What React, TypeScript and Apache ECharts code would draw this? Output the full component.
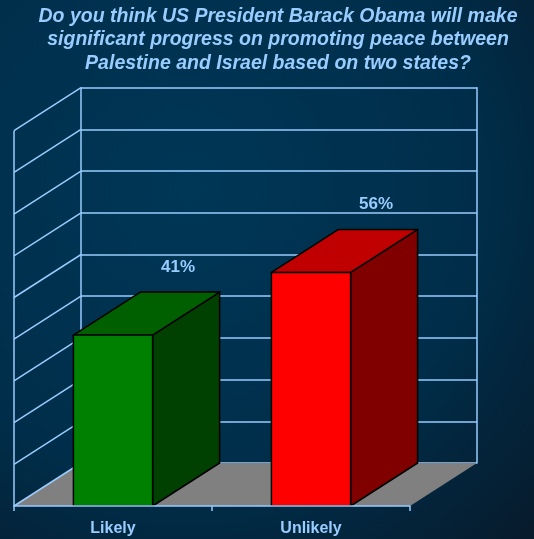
import React, { useEffect, useRef } from "react";
import * as echarts from "echarts";

const titleLines = [
  "Do you think US President Barack Obama will make",
  "significant progress on promoting peace between",
  "Palestine and Israel based on two states?",
];
const categories = ["Likely", "Unlikely"];
const values = [41, 56];
const valueLabels = ["41%", "56%"];
const faceColors = ["#008000", "#ff0000"];
const topColors = ["#006000", "#c00000"];
const sideColors = ["#004000", "#800000"];
const gridTicks = [0, 10, 20, 30, 40, 50, 60, 70, 80, 90];

const DX = 67;
const DY = -43;
const LINE = "#99ccff";
const FONT = "'Liberation Sans', Arial, sans-serif";

export default function App() {
  const ref = useRef<HTMLDivElement>(null);
  useEffect(() => {
    if (!ref.current) return;
    const chart = echarts.init(ref.current, undefined, { renderer: "svg" });
    const front = { left: 14, top: 130.7, width: 396, height: 375.3 };
    const back = { left: front.left + DX, top: front.top + DY, width: 396, height: 375.3 };
    chart.setOption({
      animation: false,
      backgroundColor: {
        type: "radial",
        x: 0.35,
        y: 0.35,
        r: 0.9,
        colorStops: [
          { offset: 0, color: "#003756" },
          { offset: 0.6, color: "#002e4a" },
          { offset: 1, color: "#071b2d" },
        ],
      },
      graphic: [
        {
          type: "text",
          x: 278,
          y: 3,
          z: 10,
          style: {
            text: titleLines.join("\n"),
            fill: LINE,
            font: "italic bold 19.5px " + FONT,
            align: "center",
            verticalAlign: "top",
            lineHeight: 23.5,
          },
        },
      ],
      grid: [{ ...front }, { ...back }],
      xAxis: [
        {
          type: "category",
          gridIndex: 0,
          data: categories,
          axisLine: { lineStyle: { color: LINE, width: 1.5 } },
          axisTick: { show: true, length: 5, lineStyle: { color: LINE, width: 1.5 } },
          axisLabel: {
            color: LINE,
            fontFamily: FONT,
            fontWeight: "bold",
            fontSize: 16,
            margin: 13,
          },
          z: 5,
        },
        {
          type: "category",
          gridIndex: 1,
          data: categories,
          show: false,
        },
      ],
      yAxis: [
        { type: "value", gridIndex: 0, min: 0, max: 90, interval: 10, show: false },
        {
          type: "value",
          gridIndex: 1,
          min: 0,
          max: 90,
          interval: 10,
          axisLabel: { show: false },
          axisTick: { show: false },
          axisLine: { show: true, lineStyle: { color: LINE, width: 1.5 } },
          splitLine: { show: true, lineStyle: { color: LINE, width: 1.5 } },
        },
        {
          type: "value",
          gridIndex: 1,
          position: "right",
          min: 0,
          max: 90,
          interval: 10,
          axisLabel: { show: false },
          axisTick: { show: false },
          axisLine: { show: true, lineStyle: { color: LINE, width: 1.5 } },
          splitLine: { show: false },
        },
      ],
      series: [
        {
          type: "custom",
          xAxisIndex: 0,
          yAxisIndex: 0,
          data: [[0, 0]],
          z: 1,
          renderItem: (params: any, api: any) => {
            const cs = params.coordSys;
            const y0 = api.coord([0, 0])[1];
            const x0 = cs.x;
            const x1 = cs.x + cs.width;
            return {
              type: "polygon",
              shape: {
                points: [
                  [x0, y0],
                  [x1, y0],
                  [x1 + DX, y0 + DY],
                  [x0 + DX, y0 + DY],
                ],
              },
              style: { fill: "#808080", stroke: "none" },
            };
          },
        },
        {
          type: "custom",
          xAxisIndex: 0,
          yAxisIndex: 0,
          data: gridTicks.map((v) => [0, v]),
          z: 2,
          renderItem: (params: any, api: any) => {
            const cs = params.coordSys;
            const v = api.value(1);
            const y = api.coord([0, v])[1];
            const children: any[] = [
              {
                type: "line",
                shape: { x1: cs.x, y1: y, x2: cs.x + DX, y2: y + DY },
                style: { stroke: LINE, lineWidth: 1.5 },
              },
            ];
            if (params.dataIndex === 0) {
              children.push({
                type: "line",
                shape: { x1: cs.x, y1: cs.y, x2: cs.x, y2: cs.y + cs.height },
                style: { stroke: LINE, lineWidth: 1.5 },
              });
            }
            return { type: "group", children };
          },
        },
        {
          type: "custom",
          xAxisIndex: 0,
          yAxisIndex: 0,
          data: values.map((v, i) => [i, v]),
          z: 3,
          renderItem: (params: any, api: any) => {
            const i = api.value(0);
            const v = api.value(1);
            const top = api.coord([i, v]);
            const base = api.coord([i, 0]);
            const bw = api.size([1, 0])[0] * 0.4;
            const xl = top[0] - bw / 2;
            const xr = top[0] + bw / 2;
            const yt = top[1];
            const yb = base[1];
            const stroke = { stroke: "#000", lineWidth: 1.5, lineJoin: "round" };
            return {
              type: "group",
              children: [
                {
                  type: "polygon",
                  shape: { points: [[xr, yt], [xr + DX, yt + DY], [xr + DX, yb + DY], [xr, yb]] },
                  style: { fill: sideColors[i], ...stroke },
                },
                {
                  type: "polygon",
                  shape: { points: [[xl, yt], [xr, yt], [xr + DX, yt + DY], [xl + DX, yt + DY]] },
                  style: { fill: topColors[i], ...stroke },
                },
                {
                  type: "rect",
                  shape: { x: xl, y: yt, width: bw, height: yb - yt },
                  style: { fill: faceColors[i], ...stroke },
                },
                {
                  type: "text",
                  x: top[0] + DX - 2,
                  y: yt + DY - 26,
                  style: {
                    text: valueLabels[i],
                    fill: LINE,
                    font: "bold 17px " + FONT,
                    align: "center",
                    verticalAlign: "middle",
                  },
                },
              ],
            };
          },
        },
      ],
    });
    return () => chart.dispose();
  }, []);
  return (
    <div
      ref={ref}
      style={{ position: "fixed", left: 0, top: 0, width: 534, height: 539 }}
    />
  );
}
